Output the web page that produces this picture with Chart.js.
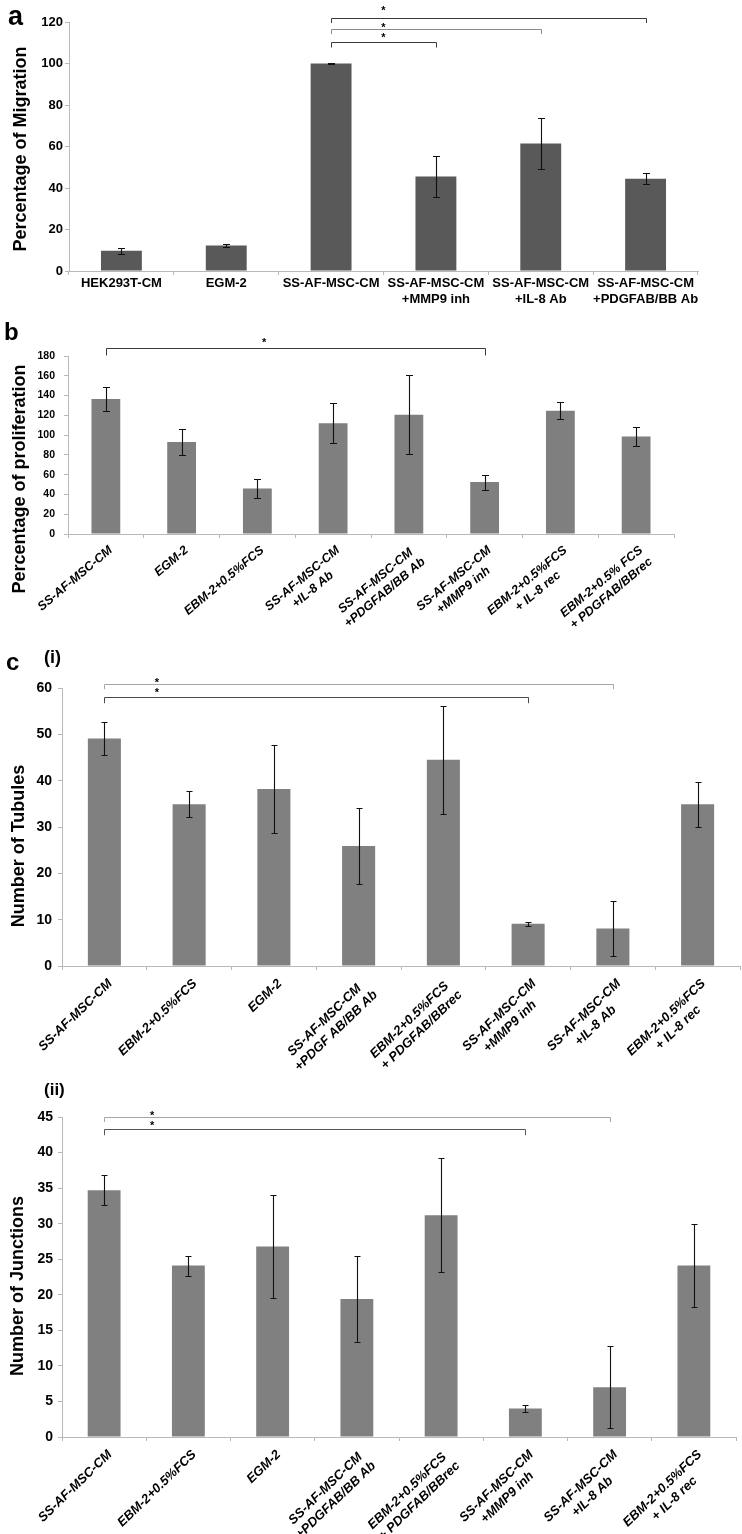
<!DOCTYPE html>
<html><head><meta charset="utf-8">
<script src="https://cdn.jsdelivr.net/npm/chart.js@4.4.1/dist/chart.umd.min.js"></script>
<style>
body{margin:0;background:#fff;}
#wrap{position:relative;width:742px;height:1534px;background:#fff;font-family:"Liberation Sans",Arial,sans-serif;overflow:hidden;}
canvas{position:absolute;left:0;}
.lab{position:absolute;font-weight:bold;color:#000;line-height:1;white-space:nowrap;}
</style></head><body>
<div id="wrap">
<canvas id="ca" width="742" height="310" style="top:0px"></canvas>
<canvas id="cb" width="742" height="330" style="top:310px"></canvas>
<canvas id="cc2" width="742" height="474" style="top:1060px"></canvas>
<canvas id="cc1" width="742" height="440" style="top:640px"></canvas>
<div class="lab" style="left:8px;top:3px;font-size:27px">a</div>
<div class="lab" style="left:4px;top:320px;font-size:24px">b</div>
<div class="lab" style="left:6px;top:650px;font-size:24px">c</div>
<div class="lab" style="left:44px;top:648px;font-size:18px">(i)</div>
<div class="lab" style="left:44px;top:1081px;font-size:17px">(ii)</div>
</div>
<script>
// ---------- data ----------
const catA = [["HEK293T-CM"], ["EGM-2"], ["SS-AF-MSC-CM"], ["SS-AF-MSC-CM", "+MMP9 inh"], ["SS-AF-MSC-CM", "+IL-8 Ab"], ["SS-AF-MSC-CM", "+PDGFAB/BB Ab"]];
const valA = [9.8, 12.3, 100, 45.5, 61.4, 44.5];
const errA = [1.4, 0.7, 0.2, 9.7, 12.3, 2.8];
const ticksA = [0, 20, 40, 60, 80, 100, 120];
const sigA = [[2, 5], [2, 4], [2, 3]];
const titleA = "Percentage of Migration";

const catB = ["SS-AF-MSC-CM", "EGM-2", "EBM-2+0.5%FCS", ["SS-AF-MSC-CM", "+IL-8 Ab"], ["SS-AF-MSC-CM", "+PDGFAB/BB Ab"], ["SS-AF-MSC-CM", "+MMP9 inh"], ["EBM-2+0.5%FCS", "+ IL-8 rec"], ["EBM-2+0.5% FCS", "+ PDGFAB/BBrec"]];
const valB = [136.5, 93, 46, 112, 120.5, 52.5, 124.7, 98.5];
const errB = [12, 12.7, 9.3, 20, 40, 7.6, 8.5, 10];
const ticksB = [0, 20, 40, 60, 80, 100, 120, 140, 160, 180];
const sigB = [[0, 5]];
const titleB = "Percentage of proliferation";

const catC1 = ["SS-AF-MSC-CM", "EBM-2+0.5%FCS", "EGM-2", ["SS-AF-MSC-CM", "+PDGF AB/BB Ab"], ["EBM-2+0.5%FCS", "+ PDGFAB/BBrec"], ["SS-AF-MSC-CM", "+MMP9 inh"], ["SS-AF-MSC-CM", "+IL-8 Ab"], ["EBM-2+0.5%FCS", "+ IL-8 rec"]];
const valC1 = [49.1, 34.9, 38.2, 25.9, 44.5, 9.1, 8.1, 34.9];
const errC1 = [3.6, 2.8, 9.5, 8.3, 11.7, 0.45, 6, 4.8];
const ticksC1 = [0, 10, 20, 30, 40, 50, 60];
const sigC1 = [[0, 6], [0, 5]];
const titleC1 = "Number of Tubules";

const catC2 = ["SS-AF-MSC-CM", "EBM-2+0.5%FCS", "EGM-2", ["SS-AF-MSC-CM", "+PDGFAB/BB Ab"], ["EBM-2+0.5%FCS", "+ PDGFAB/BBrec"], ["SS-AF-MSC-CM", "+MMP9 inh"], ["SS-AF-MSC-CM", "+IL-8 Ab"], ["EBM-2+0.5%FCS", "+ IL-8 rec"]];
const valC2 = [34.7, 24.1, 26.8, 19.4, 31.2, 4.0, 7.0, 24.1];
const errC2 = [2.1, 1.4, 7.3, 6.0, 8.0, 0.5, 5.8, 5.8];
const ticksC2 = [0, 5, 10, 15, 20, 25, 30, 35, 40, 45];
const sigC2 = [[0, 6], [0, 5]];
const titleC2 = "Number of Junctions";

// ---------- drawing ----------
const FAM = "'Liberation Sans', Arial, sans-serif";

// rotated multi-line labels: pad the shorter line so lines appear centred under each other
function centerLines(labels, f) {
  const c = document.createElement('canvas').getContext('2d');
  c.font = (f.style || 'normal') + ' ' + (f.weight || 'normal') + ' ' + f.size + 'px ' + f.family;
  const sp = c.measureText(' ').width;
  return labels.map(l => {
    if (!Array.isArray(l) || l.length < 2) return l;
    const w = l.map(s => c.measureText(s).width);
    const mx = Math.max(...w);
    return l.map((s, i) => s + ' '.repeat(Math.max(0, Math.round((mx - w[i]) / 2 / sp))));
  });
}

function decoPlugin(spec) {
  return {
    id: 'deco',
    afterDatasetsDraw(chart) {
      const ctx = chart.ctx, ys = chart.scales.y;
      const meta = chart.getDatasetMeta(0);
      const vals = chart.data.datasets[0].data;
      ctx.save();
      ctx.strokeStyle = '#111';
      ctx.lineWidth = 1.1;
      meta.data.forEach((bar, i) => {
        const v = vals[i], e = spec.errors[i];
        const yt = Math.round(ys.getPixelForValue(v + e)) + 0.5;
        const yb = Math.round(ys.getPixelForValue(v - e)) + 0.5;
        const x = Math.round(bar.x) + 0.5;
        ctx.beginPath();
        ctx.moveTo(x, yt); ctx.lineTo(x, yb);
        ctx.moveTo(x - spec.cap, yt); ctx.lineTo(x + spec.cap, yt);
        ctx.moveTo(x - spec.cap, yb); ctx.lineTo(x + spec.cap, yb);
        ctx.stroke();
      });
      ctx.restore();
    },
    afterDraw(chart) {
      const ctx = chart.ctx, xs = chart.scales.x, ys = chart.scales.y;
      ctx.save();
      spec.sig.forEach((pair, k) => {
        const b = spec.br[k];
        const x1 = Math.round(xs.getPixelForValue(pair[0])) + 0.5;
        const x2 = Math.round(xs.getPixelForValue(pair[1])) + 0.5;
        const y = Math.round(ys.getPixelForValue(b.line)) + 0.5;
        ctx.strokeStyle = b.color;
        ctx.lineWidth = 1;
        ctx.beginPath();
        ctx.moveTo(x1, y + b.tick); ctx.lineTo(x1, y); ctx.lineTo(x2, y); ctx.lineTo(x2, y + b.tick);
        ctx.stroke();
        ctx.fillStyle = '#000';
        ctx.font = 'bold 11px ' + FAM;
        ctx.textAlign = 'center';
        ctx.textBaseline = 'alphabetic';
        ctx.fillText('*', xs.getPixelForValue(spec.starX), ys.getPixelForValue(b.star) + 6.5);
      });
      ctx.translate(spec.title.x, spec.title.y);
      ctx.rotate(-Math.PI / 2);
      ctx.font = 'bold 18px ' + FAM;
      ctx.fillStyle = '#000';
      ctx.textAlign = 'center';
      ctx.textBaseline = 'middle';
      ctx.fillText(spec.title.text, 0, 0);
      ctx.restore();
    }
  };
}

function makeChart(id, p) {
  const canvas = document.getElementById(id);
  const H = canvas.height;
  const labels = p.rot ? centerLines(p.labels, p.xFont) : p.labels;
  return new Chart(canvas, {
    type: 'bar',
    data: {
      labels: labels,
      datasets: [{ data: p.values, backgroundColor: p.color, borderWidth: 0, categoryPercentage: 1, barPercentage: p.barPct }]
    },
    options: {
      responsive: false, animation: false, devicePixelRatio: 1,
      events: [],
      layout: { padding: { top: p.top, right: 742 - p.right, left: 0, bottom: 0 } },
      plugins: { legend: { display: false }, tooltip: { enabled: false } },
      scales: {
        x: {
          grid: { display: true, drawOnChartArea: false, drawTicks: true, tickLength: 4, color: '#b8b8b8', offset: true },
          border: { color: '#b8b8b8', width: 1 },
          ticks: { color: '#000', font: p.xFont, minRotation: p.rot, maxRotation: p.rot, padding: p.xPad, labelOffset: p.labelOffset, autoSkip: false },
          afterFit: s => { s.height = H - p.bottom; }
        },
        y: {
          min: p.ticks[0], max: p.ticks[p.ticks.length - 1],
          grid: { display: true, drawOnChartArea: false, drawTicks: true, tickLength: 4, color: '#b8b8b8' },
          border: { color: '#b8b8b8', width: 1 },
          ticks: { stepSize: p.ticks[1] - p.ticks[0], color: '#000', font: p.yFont, padding: p.yPad },
          afterFit: s => { s.width = p.left; }
        }
      }
    },
    plugins: [decoPlugin(p.deco)]
  });
}

makeChart('ca', {
  labels: catA, values: valA, ticks: ticksA, color: '#595959', barPct: 0.39,
  top: 22, bottom: 271, left: 69, right: 698,
  xFont: { family: FAM, size: 13, weight: 'bold' }, rot: 0, xPad: 1, labelOffset: 0,
  yFont: { family: FAM, size: 13, weight: 'bold' }, yPad: 2,
  deco: {
    errors: errA, cap: 3.5, sig: sigA, starX: 2.5,
    br: [{ line: 121.8, star: 127.1, tick: 4.5, color: '#3a3a3a' },
         { line: 116.5, star: 119.0, tick: 4.5, color: '#8a8a8a' },
         { line: 110.5, star: 113.9, tick: 5, color: '#3a3a3a' }],
    title: { text: titleA, x: 21, y: 149 }
  }
});

makeChart('cb', {
  labels: catB, values: valB, ticks: ticksB, color: '#7f7f7f', barPct: 0.38,
  top: 46, bottom: 224, left: 68, right: 674,
  xFont: { family: FAM, size: 12.5, weight: 'bold', style: 'italic' }, rot: 40, xPad: 5, labelOffset: 5,
  yFont: { family: FAM, size: 10.5, weight: 'bold' }, yPad: 9,
  deco: {
    errors: errB, cap: 3.5, sig: sigB, starX: 2.09,
    br: [{ line: 188.1, star: 196.2, tick: 7, color: '#3a3a3a' }],
    title: { text: titleB, x: 20, y: 169 }
  }
});

makeChart('cc1', {
  labels: catC1, values: valC1, ticks: ticksC1, color: '#808080', barPct: 0.39,
  top: 48, bottom: 326, left: 62, right: 740,
  xFont: { family: FAM, size: 13, weight: 'bold', style: 'italic' }, rot: 44, xPad: 6, labelOffset: 6,
  yFont: { family: FAM, size: 14, weight: 'bold' }, yPad: 6,
  deco: {
    errors: errC1, cap: 3, sig: sigC1, starX: 0.62,
    br: [{ line: 60.9, star: 61.9, tick: 4.7, color: '#a6a6a6' },
         { line: 58.1, star: 59.6, tick: 5.7, color: '#4a4a4a' }],
    title: { text: titleC1, x: 19, y: 206 }
  }
});

makeChart('cc2', {
  labels: catC2, values: valC2, ticks: ticksC2, color: '#808080', barPct: 0.39,
  top: 57, bottom: 377, left: 62, right: 736,
  xFont: { family: FAM, size: 13, weight: 'bold', style: 'italic' }, rot: 44, xPad: 6, labelOffset: 6,
  yFont: { family: FAM, size: 14, weight: 'bold' }, yPad: 5,
  deco: {
    errors: errC2, cap: 3, sig: sigC2, starX: 0.57,
    br: [{ line: 45.05, star: 45.7, tick: 4.5, color: '#a6a6a6' },
         { line: 43.3, star: 44.2, tick: 5.7, color: '#555555' }],
    title: { text: titleC2, x: 18, y: 226 }
  }
});
</script>
</body></html>
